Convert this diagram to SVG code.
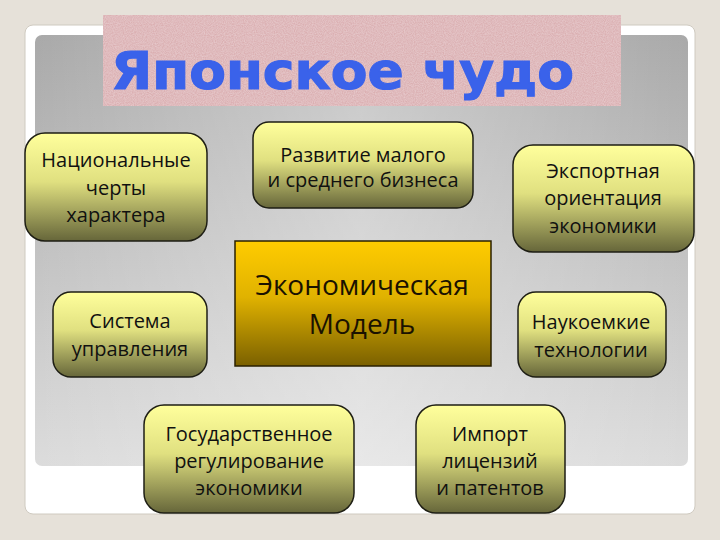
<svg xmlns="http://www.w3.org/2000/svg" width="720" height="540" viewBox="0 0 720 540">
<defs>
<linearGradient id="panelV" x1="0" y1="0" x2="0" y2="1">
<stop offset="0" stop-color="#a9a9a9"/>
<stop offset="1" stop-color="#dcdcdc"/>
</linearGradient>
<linearGradient id="panelH" x1="0" y1="0" x2="1" y2="0">
<stop offset="0" stop-color="#ffffff" stop-opacity="0"/>
<stop offset="0.5" stop-color="#ffffff" stop-opacity="0.35"/>
<stop offset="1" stop-color="#ffffff" stop-opacity="0"/>
</linearGradient>
<linearGradient id="nodeG" x1="0" y1="0" x2="0" y2="1">
<stop offset="0" stop-color="#ffff9c"/>
<stop offset="0.45" stop-color="#e0e080"/>
<stop offset="1" stop-color="#66663a"/>
</linearGradient>
<linearGradient id="coreG" x1="0" y1="0" x2="0" y2="1">
<stop offset="0" stop-color="#ffcc00"/>
<stop offset="0.45" stop-color="#e0b200"/>
<stop offset="1" stop-color="#7a6000"/>
</linearGradient>
<filter id="noise" x="0" y="0" width="1" height="1">
<feTurbulence type="fractalNoise" baseFrequency="0.9" numOctaves="2" seed="3" result="n"/>
<feColorMatrix in="n" type="matrix" values="0 0 0 0 0.85  0 0 0 0 0.68  0 0 0 0 0.70  0 0 0 0.9 -0.2" result="c"/>
<feComposite in="c" in2="SourceGraphic" operator="in" result="t"/>
<feMerge><feMergeNode in="SourceGraphic"/><feMergeNode in="t"/></feMerge>
</filter>
</defs>
<style>
.node{fill:url(#nodeG);stroke:#1e1e14;stroke-width:1.5}
.core{fill:url(#coreG);stroke:#2a2000;stroke-width:1.5}
.t{font-family:"Open Sans","Noto Sans","DejaVu Sans",sans-serif;font-size:20px;fill:#111110;text-anchor:middle}
.tc{font-family:"Open Sans","Noto Sans","DejaVu Sans",sans-serif;font-size:28px;fill:#1a1200;text-anchor:middle}
.title{font-family:"DejaVu Sans","Liberation Sans",sans-serif;font-weight:bold;font-size:52px;fill:#3a62ea;stroke:#3a62ea;stroke-width:1.2}
</style>
<rect x="0" y="0" width="720" height="540" fill="#e6e1d9"/>
<rect x="25" y="25" width="670" height="489" rx="8" fill="#ffffff" stroke="#cfcac0" stroke-width="1"/>
<rect x="35" y="35" width="653" height="431" rx="7" fill="url(#panelV)"/>
<rect x="35" y="35" width="653" height="431" rx="7" fill="url(#panelH)"/>
<g id="title">
<rect x="103" y="15" width="518" height="91" fill="#dbb0b2" filter="url(#noise)"/>
<text x="111" y="89" class="title" textLength="463" lengthAdjust="spacingAndGlyphs">Японское чудо</text>
</g>
<g id="connectors"></g>
<g id="n1">
<rect x="25" y="133" width="182" height="108" rx="20" class="node"/>
<text class="t" x="116" y="167">Национальные</text>
<text class="t" x="116" y="195">черты</text>
<text class="t" x="116" y="222">характера</text>
</g>
<g id="n2">
<rect x="253" y="122" width="220" height="86" rx="16" class="node"/>
<text class="t" x="363" y="162">Развитие малого</text>
<text class="t" x="363" y="187">и среднего бизнеса</text>
</g>
<g id="n3">
<rect x="513" y="145" width="181" height="107" rx="20" class="node"/>
<text class="t" x="603" y="178">Экспортная</text>
<text class="t" x="603" y="205">ориентация</text>
<text class="t" x="603" y="233">экономики</text>
</g>
<g id="n4">
<rect x="53" y="292" width="154" height="85" rx="18" class="node"/>
<text class="t" x="130" y="328">Система</text>
<text class="t" x="130" y="356">управления</text>
</g>
<g id="core">
<rect x="235" y="241" width="256" height="125" class="core"/>
<text class="tc" x="362" y="295">Экономическая</text>
<text class="tc" x="362" y="334">Модель</text>
</g>
<g id="n6">
<rect x="518" y="292" width="148" height="85" rx="18" class="node"/>
<text class="t" x="591" y="329">Наукоемкие</text>
<text class="t" x="591" y="357">технологии</text>
</g>
<g id="n7">
<rect x="144" y="405" width="210" height="108" rx="20" class="node"/>
<text class="t" x="249" y="441">Государственное</text>
<text class="t" x="249" y="468">регулирование</text>
<text class="t" x="249" y="495">экономики</text>
</g>
<g id="n8">
<rect x="416" y="405" width="149" height="108" rx="20" class="node"/>
<text class="t" x="490" y="441">Импорт</text>
<text class="t" x="490" y="468">лицензий</text>
<text class="t" x="490" y="495">и патентов</text>
</g>
</svg>
